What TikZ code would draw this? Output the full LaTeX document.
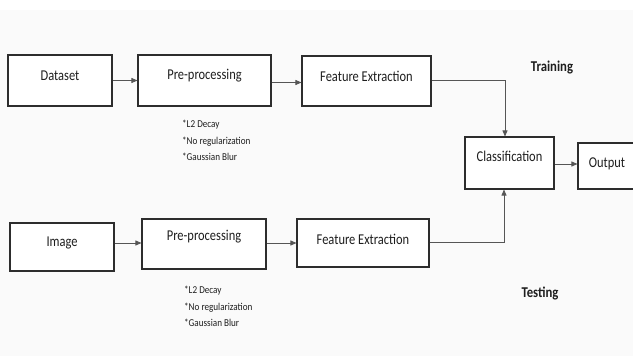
\documentclass[tikz,border=0pt]{standalone}
\usepackage{fontspec}
\setmainfont{Carlito}
\usetikzlibrary{arrows.meta,calc}
\definecolor{bg}{RGB}{250,250,250}
\definecolor{edge}{RGB}{45,45,45}
\definecolor{wire}{RGB}{85,85,85}
\definecolor{ink}{RGB}{30,30,30}
\tikzset{
  box/.style={draw=edge, line width=1.1pt, fill=white, rectangle, inner sep=0pt},
  lbl/.style={font=\fontsize{15}{17}\selectfont, inner sep=0pt, text=ink, xscale=0.83},
  bold/.style={font=\fontsize{15}{17}\selectfont\bfseries, inner sep=0pt, text=ink, xscale=0.85},
  notes/.style={font=\fontsize{10.5}{16.5}\selectfont, align=left, inner sep=0pt, anchor=north west, text=ink, xscale=0.87},
  wirearrow/.style={draw=wire, line width=0.8pt, -{Triangle[length=6pt,width=5pt]}},
}
\begin{document}
\begin{tikzpicture}[x=1pt,y=-1pt]
\useasboundingbox (0,0) rectangle (633,356);
\fill[bg] (0,10) rectangle (633,356);
% training row
\node[box, minimum width=104pt, minimum height=51pt] (ds) at (60,80.5) {};
\node[lbl] (dsT) at ([yshift=5pt]ds.center) {Dataset};
\node[box, minimum width=133pt, minimum height=51pt] (pp) at (204.5,80.5) {};
\node[lbl] (ppT) at ([yshift=5pt]pp.center) {Pre-processing};
\node[box, minimum width=129pt, minimum height=50pt] (fe) at (366.5,81) {};
\node[lbl] (feT) at ([yshift=5pt]fe.center) {Feature Extraction};
\node[notes] (n1) at (182,120) {*L2 Decay\\*No regularization\\*Gaussian Blur};
\node[bold] (tr) at (552,68) {Training};
% classification and output
\node[box, minimum width=89pt, minimum height=52pt] (cl) at (509.5,163) {};
\node[lbl] (clT) at ([yshift=7pt]cl.center) {Classification};
\node[box, minimum width=60pt, minimum height=46pt] (out) at (608,166) {};
\node[lbl] (outT) at ([xshift=-1pt,yshift=2pt]out.center) {Output};
% testing row
\node[box, minimum width=104pt, minimum height=48pt] (im) at (62,247) {};
\node[lbl] (imT) at ([yshift=4pt]im.center) {Image};
\node[box, minimum width=124pt, minimum height=50pt] (pp2) at (204,244) {};
\node[lbl] (pp2T) at ([yshift=7pt]pp2.center) {Pre-processing};
\node[box, minimum width=132pt, minimum height=48pt] (fe2) at (363,243) {};
\node[lbl] (fe2T) at ([yshift=4pt]fe2.center) {Feature Extraction};
\node[notes] (n2) at (184,286) {*L2 Decay\\*No regularization\\*Gaussian Blur};
\node[bold] (te) at (540,293) {Testing};
% connectors
\draw[wirearrow] (ds.east) -- (pp.west);
\draw[wirearrow] ([yshift=-2pt]pp.east) -- ([yshift=-2pt]pp.east -| fe.west);
\coordinate (j1) at (505,80);
\draw[wirearrow] (fe.east |- j1) -- (j1) -- (j1 |- cl.north);
\draw[wirearrow] (im.east |- 0,243) -- (pp2.west |- 0,243);
\draw[wirearrow] (pp2.east |- 0,243) -- (fe2.west |- 0,243);
\coordinate (j2) at (504,242);
\draw[wirearrow] (fe2.east |- j2) -- (j2) -- (j2 |- cl.south);
\draw[wirearrow] (cl.east |- 0,164) -- (out.west |- 0,164);
\end{tikzpicture}
\end{document}
